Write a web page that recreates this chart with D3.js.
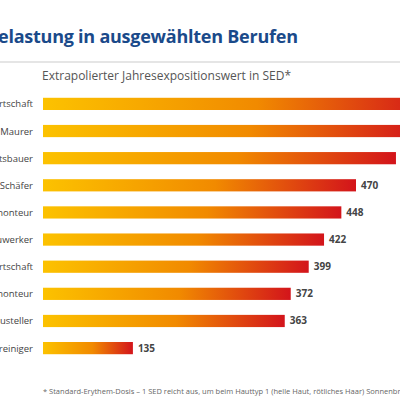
<!DOCTYPE html><html><head><meta charset="utf-8"><script src="https://cdn.jsdelivr.net/npm/d3@7"></script>
<style>body{margin:0;background:#fff}</style></head><body><svg id="c" width="400" height="400"></svg><script>
const categories=["Forstwirtschaft","Maurer","Garten- und Landschaftsbauer","Schäfer","Freileitungsmonteur","Hochbauwerker","Landwirtschaft","Isolationsmonteur","Schausteller","Gebäudereiniger"];
const values=[585,565,530,470,448,422,399,372,363,135];
const svg=d3.select("#c");
const font="'Open Sans',sans-serif";
svg.append("text").attr("x",-2).attr("y",43).attr("font-family",font).attr("font-weight",700).attr("font-size",18).attr("fill","#1a4a8a").attr("textLength",300).text("elastung in ausgewählten Berufen");
svg.append("line").attr("x1",0).attr("x2",400).attr("y1",62).attr("y2",62).attr("stroke","#ddd").attr("stroke-width",1.5);
svg.append("text").attr("x",42).attr("y",80).attr("font-family",font).attr("font-size",12).attr("fill","#555").text("Extrapolierter Jahresexpositionswert in SED*");
const g=svg.append("defs").append("linearGradient").attr("id","gr");
g.append("stop").attr("offset","0%").attr("stop-color","#fcc200");
g.append("stop").attr("offset","55%").attr("stop-color","#f18a00");
g.append("stop").attr("offset","100%").attr("stop-color","#d3141b");
const x=d3.scaleLinear().domain([0,470]).range([43,356]);
const y=d3.scaleBand().domain(categories).range([91,361]).paddingInner(0.55).paddingOuter(0.25);
svg.selectAll("rect.b").data(values).join("rect").attr("x",x(0)).attr("y",(d,i)=>y(categories[i])).attr("width",d=>x(d)-x(0)).attr("height",y.bandwidth()).attr("fill","url(#gr)");
svg.selectAll("text.l").data(categories).join("text").attr("x",33).attr("y",d=>y(d)+y.bandwidth()/2+3.5).attr("text-anchor","end").attr("font-family",font).attr("font-size",9.5).attr("fill","#444").text(d=>d);
svg.selectAll("text.v").data(values).join("text").attr("x",d=>x(d)+5).attr("y",(d,i)=>y(categories[i])+y.bandwidth()/2+3.5).attr("font-family",font).attr("font-weight",700).attr("font-size",10).attr("fill","#444").text(d=>d);
svg.append("text").attr("x",43).attr("y",394).attr("font-family",font).attr("font-size",7.5).attr("fill","#666").text("* Standard-Erythem-Dosis – 1 SED reicht aus, um beim Hauttyp 1 (helle Haut, rötliches Haar) Sonnenbrand");
</script></body></html>
